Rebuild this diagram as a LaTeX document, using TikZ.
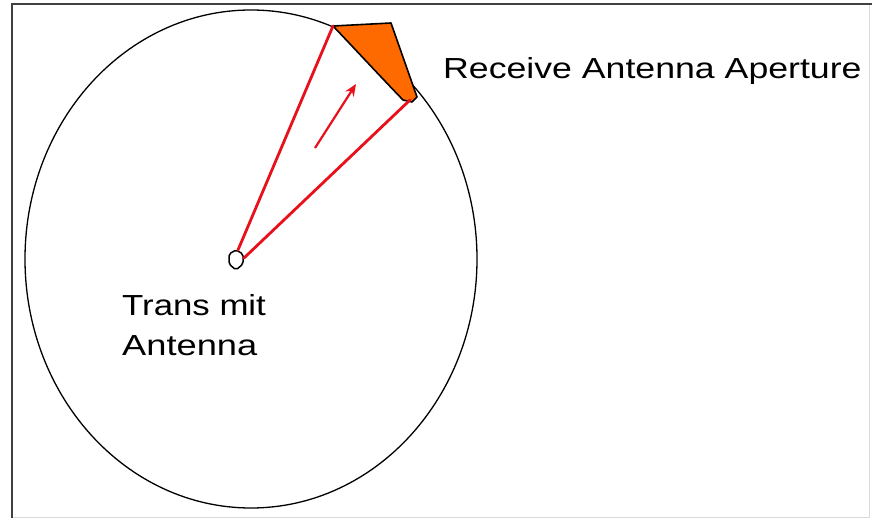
\documentclass[tikz,border=0pt]{standalone}
\usepackage{fontspec}
\setmainfont{Liberation Sans}
\usetikzlibrary{arrows.meta}
\definecolor{beamred}{HTML}{E8101A}
\definecolor{aperture}{HTML}{FF6A00}
\tikzset{
  frameline/.style={draw=black!75, line width=2.4pt},
  faintline/.style={draw=black!15, line width=1pt},
  beam/.style={draw=beamred, line width=2.8pt, line cap=round},
  flow/.style={draw=beamred, line width=2.2pt, -{Stealth[length=12pt,width=10pt]}},
  label/.style={inner sep=0pt, anchor=base west, font=\fontsize{29}{35}\selectfont},
}
\begin{document}
\begin{tikzpicture}[x=1pt,y=-1pt]
\useasboundingbox (0,0) rectangle (872,518);
% frame
\draw[faintline] (869,4) -- (869,517) -- (12,517);
\draw[frameline] (12,518) -- (12,4) -- (872,4);
% coverage circle
\draw[black, line width=1.3pt] (251,259) ellipse [x radius=226, y radius=249];
% aperture
\coordinate (apTL) at (333,26);
\coordinate (apBR) at (410,100);
\filldraw[fill=aperture, draw=black, line width=1.6pt, line join=round]
  (apTL) -- (391,23) -- (417,97) -- (412,102) -- (403,100)
  .. controls (378,74) and (354,48) .. cycle;
% transmit antenna
\coordinate (txTop) at (238,250);
\coordinate (txRight) at (244,258);
\draw[black, line width=1.5pt, line join=round, rounded corners=2pt]
  (229,254) -- (236,250) -- (243,254) -- (243,264) -- (236,270) -- (229,264) -- cycle;
% beams
\draw[beam] (txTop) -- (apTL);
\draw[beam] (txRight) -- (apBR);
\coordinate (flowA) at (315,148);
\coordinate (flowB) at (356,84);
\draw[flow] (flowA) -- (flowB);
% labels
\node[label] (rx) at (443,79) {\scalebox{1.23}[1]{Receive Antenna Aperture}};
\node[label] (tx1) at (122,316) {\scalebox{1.2}[1]{Trans mit}};
\node[label] (tx2) at (122,355) {\scalebox{1.25}[1]{Antenna}};
\end{tikzpicture}
\end{document}
